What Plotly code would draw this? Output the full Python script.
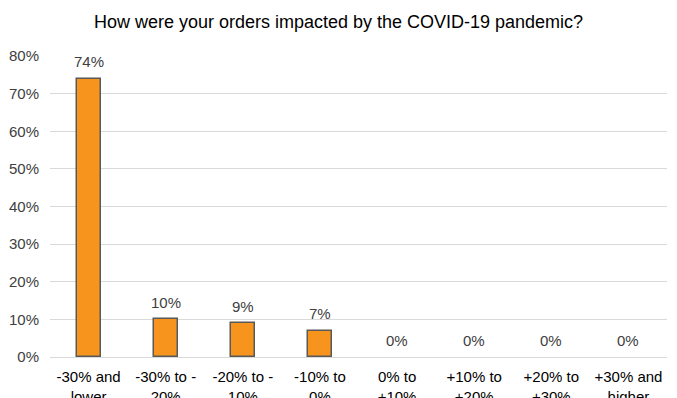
import plotly.graph_objects as go

categories = ["-30% and<br>lower", "-30% to -<br>20%", "-20% to -<br>10%", "-10% to<br>0%",
              "0% to<br>+10%", "+10% to<br>+20%", "+20% to<br>+30%", "+30% and<br>higher"]
shares = [74, 10, 9, 7, 0, 0, 0, 0]
y_ticks = [0, 10, 20, 30, 40, 50, 60, 70, 80]

text_color = "#404040"
font_family = "Liberation Sans, Arial, sans-serif"

fig = go.Figure(go.Bar(
    x=categories,
    y=shares,
    width=0.31,
    marker=dict(color="#F7941D",
                line=dict(color="#595959", width=[1.5 if v > 0 else 0 for v in shares])),
    hoverinfo="x+y",
))

# value labels above each bar
for cat, v in zip(categories, shares):
    fig.add_annotation(x=cat, y=v, text=f"{v}%", showarrow=False,
                       yanchor="middle", yshift=17,
                       font=dict(size=15, color=text_color, family=font_family))

fig.update_layout(
    width=677, height=398,
    margin=dict(l=50, r=10, t=56, b=41, autoexpand=False),
    paper_bgcolor="white", plot_bgcolor="white",
    title=dict(text="How were your orders impacted by the COVID-19 pandemic?",
               x=0.5, xanchor="center", y=0.945, yanchor="middle",
               font=dict(size=18, color="#000000", family=font_family)),
    font=dict(family=font_family, size=15, color=text_color),
    showlegend=False,
    bargap=0,
)
fig.update_yaxes(range=[0, 80], tickvals=y_ticks, ticktext=[f"{t}%" for t in y_ticks],
                 showgrid=True, gridcolor="#D9D9D9", gridwidth=1, zeroline=False,
                 showline=False, ticks="", ticklabelstandoff=10, automargin=False,
                 tickfont=dict(size=15, color=text_color))
fig.update_xaxes(showgrid=False, showline=True, linecolor="#D9D9D9", linewidth=1,
                 ticks="", tickangle=0, tickfont=dict(size=15, color="#000000"),
                 ticklabelstandoff=6, automargin=False)

fig.write_html("out.html")
